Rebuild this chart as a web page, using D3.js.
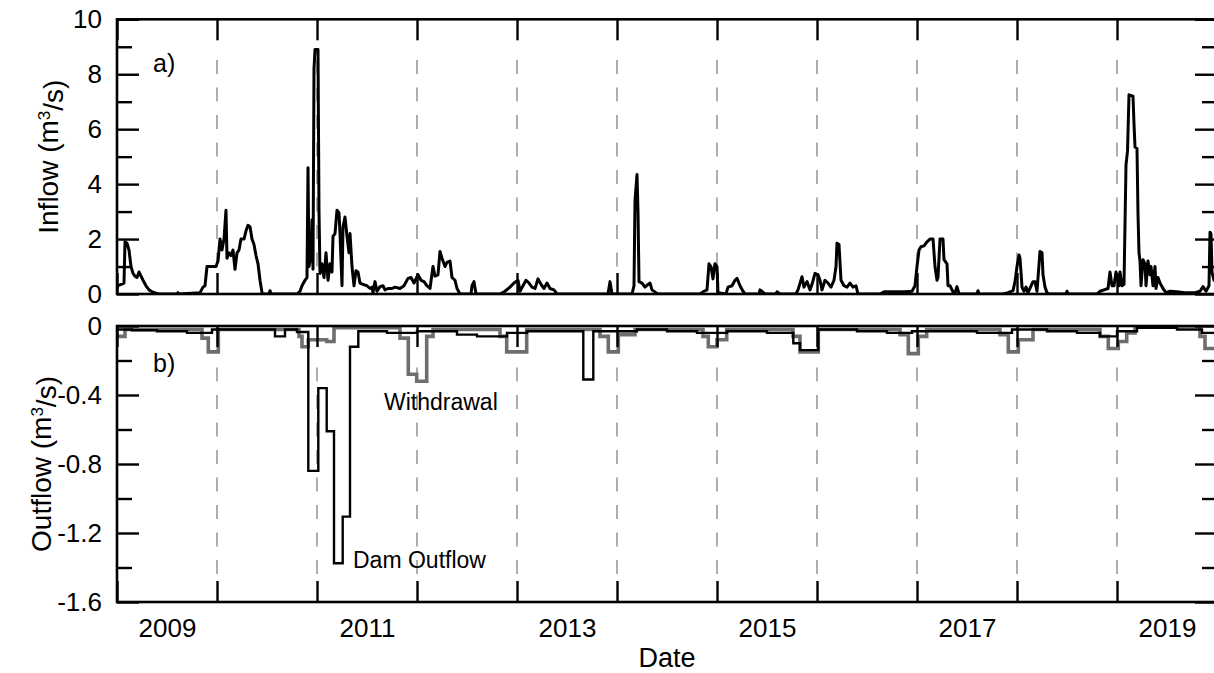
<!DOCTYPE html>
<html>
<head>
<meta charset="utf-8">
<script src="https://cdn.jsdelivr.net/npm/d3@7"></script>
<style>
  body { margin: 0; background: #fff; }
  svg { display: block; font-family: "Liberation Sans", Arial, sans-serif; }
</style>
</head>
<body>
<div id="chart"></div>
<script>
////////////////////////////////////////////////////
// data: [decimal year, m3/s]

var inflowPoints = [
  [2009.00,0.2],[2009.01,0.3],[2009.04,0.35],[2009.07,0.4],[2009.08,1.9],[2009.10,1.85],[2009.12,1.6],
  [2009.14,1.0],[2009.16,0.75],[2009.18,0.65],[2009.20,0.6],[2009.22,0.8],[2009.24,0.65],[2009.26,0.5],
  [2009.29,0.3],[2009.32,0.15],[2009.35,0.08],[2009.39,0.03],[2009.42,0],[2009.60,0],[2009.61,0.05],
  [2009.62,0],[2009.83,0.05],[2009.86,0.25],[2009.88,0.3],[2009.90,1.0],[2009.99,1.0],
  [2010.01,1.2],[2010.03,2.0],[2010.05,1.6],[2010.07,2.0],[2010.09,3.05],[2010.10,1.3],[2010.12,1.5],
  [2010.14,1.4],[2010.16,1.6],[2010.18,0.9],[2010.20,1.5],[2010.22,1.6],[2010.24,2.0],[2010.27,2.0],
  [2010.29,2.3],[2010.31,2.5],[2010.33,2.45],[2010.35,2.0],[2010.37,1.8],[2010.39,1.4],[2010.41,1.1],
  [2010.43,0.5],[2010.45,0.05],[2010.46,0],[2010.52,0],[2010.53,0.12],[2010.54,0],[2010.80,0],
  [2010.83,0.1],[2010.85,0.3],[2010.88,0.5],[2010.90,0.6],[2010.91,4.6],[2010.92,1.0],[2010.94,1.4],
  [2010.95,2.7],[2010.96,0.9],[2010.97,8.2],[2010.98,8.9],
  [2011.01,8.9],[2011.02,3.0],[2011.03,0.75],[2011.05,1.1],[2011.07,0.6],[2011.09,1.5],[2011.11,0.5],
  [2011.13,1.1],[2011.15,0.8],[2011.16,2.1],[2011.18,2.2],[2011.20,3.05],[2011.22,2.95],[2011.23,2.2],
  [2011.25,0.3],[2011.26,2.45],[2011.28,2.8],[2011.30,2.1],[2011.32,1.5],[2011.33,2.2],[2011.35,1.0],
  [2011.37,0.3],[2011.39,0.85],[2011.41,0.8],[2011.43,0.4],[2011.46,0.35],[2011.50,0.3],[2011.53,0.2],
  [2011.55,0.25],[2011.56,0.05],[2011.58,0.45],[2011.60,0.1],[2011.63,0.27],[2011.66,0.3],[2011.68,0.15],
  [2011.71,0.2],[2011.75,0.2],[2011.78,0.25],[2011.83,0.2],[2011.87,0.3],[2011.91,0.57],[2011.94,0.6],
  [2011.97,0.4],
  [2012.01,0.7],[2012.04,0.5],[2012.07,0.45],[2012.10,0.3],[2012.13,0.2],[2012.16,1.0],[2012.18,0.65],
  [2012.21,0.7],[2012.23,1.55],[2012.25,1.3],[2012.28,1.0],[2012.30,1.15],[2012.33,1.2],[2012.35,0.6],
  [2012.38,0.5],[2012.40,0.2],[2012.43,0],[2012.54,0],[2012.55,0.3],[2012.57,0.45],[2012.59,0],
  [2012.83,0],[2012.88,0.1],[2012.93,0.25],[2012.97,0.4],
  [2013.01,0.5],[2013.03,0.1],[2013.06,0.3],[2013.09,0.5],[2013.12,0.4],[2013.15,0.25],[2013.18,0.2],
  [2013.21,0.55],[2013.24,0.35],[2013.27,0.2],[2013.30,0.4],[2013.33,0.2],[2013.37,0.15],[2013.40,0],
  [2013.91,0],[2013.93,0.45],[2013.95,0],
  [2014.15,0],[2014.17,0.3],[2014.18,3.4],[2014.20,4.35],[2014.21,3.0],[2014.22,0.45],[2014.25,0.4],
  [2014.28,0.25],[2014.31,0.35],[2014.33,0.4],[2014.35,0.15],[2014.39,0.05],[2014.41,0],[2014.83,0],
  [2014.87,0.1],[2014.90,0.15],[2014.92,1.1],[2014.94,1.0],[2014.96,0.55],[2014.98,1.1],
  [2015.00,1.0],[2015.01,0.05],[2015.09,0],[2015.11,0.25],[2015.15,0.3],[2015.18,0.5],[2015.20,0.57],
  [2015.23,0.3],[2015.26,0.1],[2015.28,0],[2015.42,0],[2015.43,0.15],[2015.45,0.1],[2015.48,0],
  [2015.59,0],[2015.60,0.08],[2015.63,0],[2015.79,0],[2015.81,0.15],[2015.85,0.63],[2015.87,0.25],
  [2015.90,0.45],[2015.93,0.15],[2015.95,0.35],[2015.98,0.75],
  [2016.01,0.7],[2016.03,0.5],[2016.05,0.15],[2016.08,0.5],[2016.11,0.4],[2016.14,0.25],[2016.17,0.5],
  [2016.19,1.0],[2016.20,1.85],[2016.22,1.8],[2016.24,0.5],[2016.27,0.3],[2016.30,0.25],[2016.33,0.4],
  [2016.36,0.25],[2016.39,0.3],[2016.41,0],[2016.63,0],[2016.67,0.08],[2016.88,0.08],[2016.95,0.1],
  [2016.98,0.3],
  [2017.00,1.0],[2017.02,1.6],[2017.04,1.72],[2017.07,1.75],[2017.10,1.9],[2017.13,2.0],[2017.16,2.0],
  [2017.18,1.0],[2017.20,0.5],[2017.21,0.6],[2017.23,2.0],[2017.26,2.0],[2017.27,1.25],[2017.30,1.1],
  [2017.31,0.3],[2017.33,0.3],[2017.36,0.08],[2017.38,0.05],[2017.40,0.27],[2017.42,0],[2017.60,0],
  [2017.61,0.12],[2017.62,0],[2017.86,0],[2017.91,0.05],[2017.96,0.12],[2017.98,0.45],
  [2018.00,1.0],[2018.02,1.42],[2018.03,1.3],[2018.04,0.8],[2018.05,0.25],[2018.07,0.1],[2018.09,0.25],
  [2018.11,0.05],[2018.16,0.45],[2018.18,0.45],[2018.20,0.1],[2018.23,1.55],[2018.25,1.5],[2018.26,0.7],
  [2018.28,0.25],[2018.30,0.05],[2018.32,0],[2018.49,0],[2018.50,0.1],[2018.51,0],[2018.80,0],
  [2018.83,0.1],[2018.87,0.15],[2018.91,0.2],[2018.93,0.8],[2018.95,0.3],[2018.97,0.3],[2018.99,0.8],
  [2019.02,0.3],[2019.03,0.8],[2019.05,0.3],[2019.07,0.35],[2019.09,4.7],[2019.105,5.2],[2019.12,7.25],
  [2019.16,7.2],[2019.17,6.2],[2019.18,5.35],[2019.20,5.3],[2019.21,2.9],[2019.22,1.5],[2019.23,1.2],
  [2019.24,0.3],[2019.26,1.25],[2019.28,1.1],[2019.29,0.3],[2019.31,1.2],[2019.33,0.7],[2019.34,1.0],
  [2019.36,0.3],[2019.38,1.0],[2019.39,0.2],[2019.41,0.6],[2019.43,0.4],[2019.46,0.2],[2019.49,0.05],
  [2019.53,0.1],[2019.60,0.08],[2019.68,0.05],[2019.78,0.05],[2019.83,0.1],[2019.86,0.27],[2019.89,0.1],
  [2019.92,0.3],[2019.93,2.25],[2019.94,2.2],[2019.95,0.8],[2019.97,0.5],[2020.00,0.4]
];

// step series (value holds until next date)
var damOutflowSteps = [
  [2009.00,-0.02],[2009.15,-0.025],[2009.40,-0.03],[2009.70,-0.04],[2009.95,-0.02],[2010.30,-0.02],
  [2010.58,-0.06],[2010.68,-0.02],[2010.80,-0.035],[2010.913,-0.84],[2011.013,-0.36],[2011.097,-0.61],
  [2011.17,-1.375],[2011.257,-1.105],[2011.33,-0.12],[2011.413,-0.03],[2011.70,-0.04],[2012.0,-0.03],
  [2012.4,-0.05],[2012.6,-0.06],[2012.9,-0.04],[2013.1,-0.03],[2013.663,-0.31],[2013.763,-0.03],
  [2014.2,-0.02],[2014.5,-0.03],[2014.8,-0.04],[2015.1,-0.03],[2015.5,-0.04],[2015.763,-0.1],
  [2015.83,-0.14],[2016.013,-0.02],[2016.4,-0.03],[2016.7,-0.04],[2016.95,-0.03],[2017.3,-0.03],
  [2017.6,-0.04],[2017.95,-0.02],[2018.3,-0.03],[2018.6,-0.04],[2018.83,-0.06],[2019.0,-0.03],
  [2019.2,-0.01],[2019.6,-0.02],[2019.85,-0.04],[2020.0,-0.04]
];

var withdrawalSteps = [
  [2009.00,-0.06],[2009.08,-0.02],[2009.85,-0.07],[2009.913,-0.15],[2010.013,-0.02],[2010.82,-0.06],
  [2010.85,-0.12],[2010.913,-0.08],[2011.097,-0.09],[2011.17,-0.01],[2011.83,-0.07],[2011.913,-0.28],
  [2011.997,-0.32],[2012.097,-0.06],[2012.16,-0.02],[2012.83,-0.06],[2012.897,-0.15],[2013.097,-0.02],
  [2013.83,-0.06],[2013.913,-0.15],[2014.013,-0.05],[2014.18,-0.02],[2014.86,-0.06],[2014.913,-0.12],
  [2015.0,-0.08],[2015.097,-0.02],[2015.76,-0.06],[2015.83,-0.15],[2016.013,-0.02],[2016.83,-0.05],
  [2016.913,-0.16],[2017.013,-0.06],[2017.097,-0.02],[2017.83,-0.05],[2017.913,-0.15],[2018.013,-0.08],
  [2018.16,-0.02],[2018.83,-0.06],[2018.913,-0.13],[2019.013,-0.09],[2019.097,-0.04],[2019.18,0.0],
  [2019.83,-0.06],[2019.88,-0.13],[2020.0,-0.13]
];

var yearTicks = [2009, 2010, 2011, 2012, 2013, 2014, 2015, 2016, 2017, 2018, 2019, 2020];
var gridYears = [2010, 2011, 2012, 2013, 2014, 2015, 2016, 2017, 2018, 2019];
var yearLabels = [2009, 2011, 2013, 2015, 2017, 2019];

var inflowTicks = [0, 2, 4, 6, 8, 10];
var inflowMinor = [1, 3, 5, 7, 9];
var outflowTicks = [0, -0.4, -0.8, -1.2, -1.6];
var outflowMinor = [-0.2, -0.6, -1.0, -1.4];

////////////////////////////////////////////////////

var W = 1214, H = 673;
var left = 117, right = 1217;
var top1 = 19.3, bot1 = 294;
var top2 = 326, bot2 = 602;
var majorLen = 22, minorLen = 15, xTickLen = 21;

var xScale = d3.scaleLinear().domain([2009, 2020]).range([left, right]);
var yIn = d3.scaleLinear().domain([0, 10]).range([bot1, top1]);
var yOut = d3.scaleLinear().domain([-1.6, 0]).range([bot2, top2]);

var svg = d3.select("#chart").append("svg")
    .attr("width", W)
    .attr("height", H);

svg.append("defs").selectAll("clipPath")
    .data([["clip1", top1, bot1], ["clip2", top2, bot2]])
    .enter().append("clipPath")
    .attr("id", function(d) { return d[0]; })
    .append("rect")
    .attr("x", left).attr("y", function(d) { return d[1]; })
    .attr("width", right - left).attr("height", function(d) { return d[2] - d[1]; });

// dashed year lines
function gridLines(y0, y1) {
  svg.append("g")
      .selectAll("line")
      .data(gridYears)
      .enter().append("line")
      .attr("x1", function(d) { return xScale(d); })
      .attr("x2", function(d) { return xScale(d); })
      .attr("y1", y0)
      .attr("y2", y1)
      .attr("stroke", "#8c8c8c")
      .attr("stroke-width", 1.4)
      .attr("stroke-dasharray", "14,13.5");
}
gridLines(top1 + 40.7, bot1 - xTickLen);
gridLines(top2 + 41.5, bot2 - xTickLen);

// lines
var inflowLine = d3.line()
    .x(function(d) { return xScale(d[0]); })
    .y(function(d) { return yIn(d[1]); });

var outLine = d3.line()
    .curve(d3.curveStepAfter)
    .x(function(d) { return xScale(d[0]); })
    .y(function(d) { return yOut(d[1]); });

svg.append("path")
    .datum(inflowPoints)
    .attr("clip-path", "url(#clip1)")
    .attr("fill", "none")
    .attr("stroke", "#000")
    .attr("stroke-width", 3)
    .attr("stroke-linejoin", "round")
    .attr("d", inflowLine);

svg.append("path")
    .datum(withdrawalSteps)
    .attr("clip-path", "url(#clip2)")
    .attr("fill", "none")
    .attr("stroke", "#6e6e6e")
    .attr("stroke-width", 3.6)
    .attr("d", outLine);

svg.append("path")
    .datum(damOutflowSteps)
    .attr("clip-path", "url(#clip2)")
    .attr("fill", "none")
    .attr("stroke", "#000")
    .attr("stroke-width", 2.4)
    .attr("d", outLine);

////// axes (ticks point inwards) /////////////

function styleAxis(g) {
  g.select(".domain").remove();
  g.selectAll(".tick line").attr("stroke", "#000").attr("stroke-width", 2.4);
  g.selectAll(".tick text")
      .attr("fill", "#000")
      .style("font-size", "26px");
}

function panelAxes(yScale, major, minor, y0, y1, fmt) {
  svg.append("g")
      .attr("transform", "translate(" + left + ",0)")
      .call(d3.axisLeft(yScale).tickValues(major).tickSize(-majorLen).tickPadding(15).tickFormat(fmt))
      .call(styleAxis);
  svg.append("g")
      .attr("transform", "translate(" + left + ",0)")
      .call(d3.axisLeft(yScale).tickValues(minor).tickSize(-minorLen).tickFormat(""))
      .call(styleAxis);
  svg.append("g")
      .attr("transform", "translate(" + right + ",0)")
      .call(d3.axisRight(yScale).tickValues(major).tickSize(-majorLen).tickFormat(""))
      .call(styleAxis);
  svg.append("g")
      .attr("transform", "translate(" + right + ",0)")
      .call(d3.axisRight(yScale).tickValues(minor).tickSize(-minorLen).tickFormat(""))
      .call(styleAxis);
  svg.append("g")
      .attr("transform", "translate(0," + y0 + ")")
      .call(d3.axisTop(xScale).tickValues(yearTicks).tickSize(-xTickLen).tickFormat(""))
      .call(styleAxis);
  svg.append("g")
      .attr("transform", "translate(0," + y1 + ")")
      .call(d3.axisBottom(xScale).tickValues(yearTicks).tickSize(-xTickLen).tickFormat(""))
      .call(styleAxis);

  // frame
  svg.append("rect")
      .attr("x", left).attr("y", y0)
      .attr("width", right - left).attr("height", y1 - y0)
      .attr("fill", "none")
      .attr("stroke", "#000")
      .attr("stroke-width", 2.6);
}

panelAxes(yIn, inflowTicks, inflowMinor, top1, bot1, d3.format("d"));
panelAxes(yOut, outflowTicks, outflowMinor, top2, bot2, function(d) {
  // plain hyphen for the minus sign, as in the figure
  return d === 0 ? "0" : d.toFixed(1);
});

// year labels under lower panel, centred in each year
svg.append("g")
    .attr("transform", "translate(0," + bot2 + ")")
    .call(d3.axisBottom(xScale)
        .tickValues(yearLabels.map(function(d) { return d + 0.5; }))
        .tickSize(0).tickPadding(17)
        .tickFormat(function(d) { return String(Math.floor(d)); }))
    .call(styleAxis);

////// titles and notes /////////////

function yTitle(x, y, word) {
  var t = svg.append("text")
      .attr("transform", "translate(" + x + "," + y + ") rotate(-90)")
      .attr("text-anchor", "middle")
      .style("font-size", "28px");
  t.append("tspan").text(word + " (m");
  t.append("tspan").attr("dy", "-0.45em").style("font-size", "17px").text("3");
  t.append("tspan").attr("dy", "0.45em").text("/s)");
}
yTitle(58, (top1 + bot1) / 2, "Inflow");
yTitle(51, (top2 + bot2) / 2, "Outflow");

svg.append("text")
    .attr("x", (left + right) / 2)
    .attr("y", 667)
    .attr("text-anchor", "middle")
    .style("font-size", "27px")
    .text("Date");

var notes = [
  {text: "a)", x: 153, y: 72, size: 25},
  {text: "b)", x: 153, y: 372, size: 25},
  {text: "Withdrawal", x: 384, y: 410, size: 23},
  {text: "Dam Outflow", x: 353, y: 568, size: 23}
];
svg.append("g")
    .selectAll("text")
    .data(notes)
    .enter().append("text")
    .attr("x", function(d) { return d.x; })
    .attr("y", function(d) { return d.y; })
    .style("font-size", function(d) { return d.size + "px"; })
    .text(function(d) { return d.text; });
</script>
</body>
</html>
